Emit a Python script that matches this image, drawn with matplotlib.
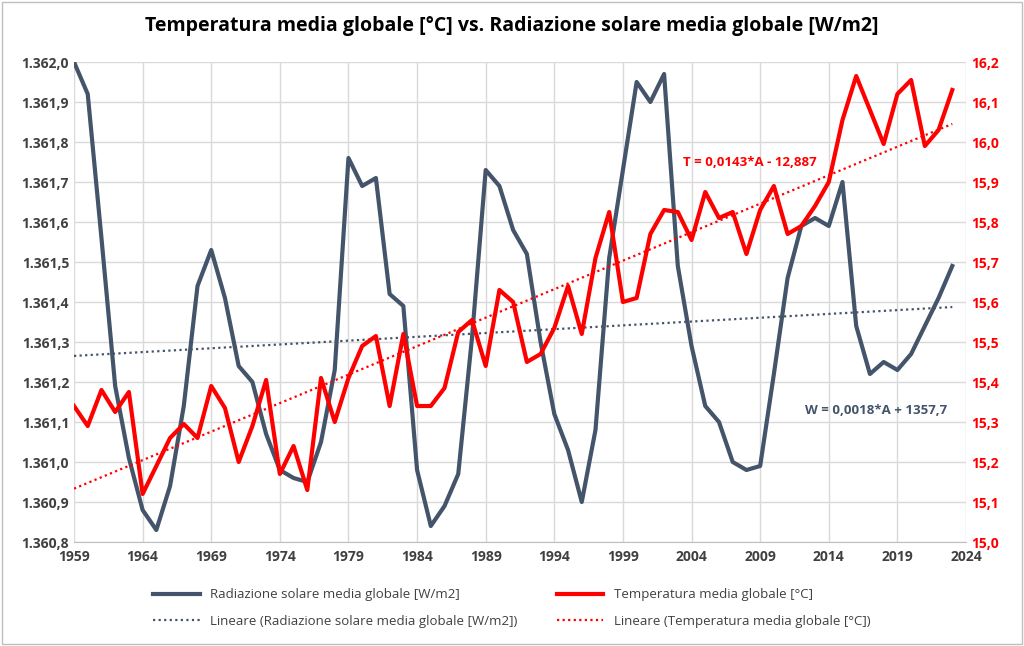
import numpy as np
import matplotlib
matplotlib.use("Agg")
import matplotlib.pyplot as plt
from matplotlib.ticker import FuncFormatter

plt.rcParams['font.family'] = ['Open Sans', 'DejaVu Sans']

years = np.arange(1959, 2024)
radiation = [1.36200, 1.36192, 1.36156, 1.36119, 1.36101, 1.36088, 1.36083, 1.36094, 1.36114, 1.36144,
             1.36153, 1.36141, 1.36124, 1.36120, 1.36107, 1.36098, 1.36096, 1.36095, 1.36105, 1.36123,
             1.36176, 1.36169, 1.36171, 1.36142, 1.36139, 1.36098, 1.36084, 1.36089, 1.36097, 1.36131,
             1.36173, 1.36169, 1.36158, 1.36152, 1.36130, 1.36112, 1.36103, 1.36090, 1.36108, 1.36151,
             1.36173, 1.36195, 1.36190, 1.36197, 1.36149, 1.36129, 1.36114, 1.36110, 1.36100, 1.36098,
             1.36099, 1.36122, 1.36146, 1.36159, 1.36161, 1.36159, 1.36170, 1.36134, 1.36122, 1.36125,
             1.36123, 1.36127, 1.36134, 1.36141, 1.36149]
temperature = [15.34, 15.29, 15.38, 15.325, 15.375, 15.12, 15.19, 15.26, 15.295, 15.26,
               15.39, 15.335, 15.20, 15.29, 15.405, 15.17, 15.24, 15.13, 15.41, 15.30,
               15.41, 15.49, 15.515, 15.34, 15.52, 15.34, 15.34, 15.385, 15.525, 15.555,
               15.44, 15.63, 15.60, 15.45, 15.47, 15.535, 15.64, 15.52, 15.71, 15.825,
               15.60, 15.61, 15.77, 15.83, 15.825, 15.755, 15.875, 15.81, 15.825, 15.72,
               15.83, 15.89, 15.77, 15.79, 15.84, 15.90, 16.055, 16.165, 16.08, 15.995,
               16.12, 16.155, 15.99, 16.03, 16.13]
rad_w = np.array(radiation) * 1000  # W/m2

GREY = "#44546a"
RED = "#ff0000"


def fmt_rad(v, pos):
    # 1361.2 -> "1.361,2"
    n = int(round(v * 10))
    return "%d.%03d,%d" % (n // 10000, n // 10 % 1000, n % 10)


fig = plt.figure(figsize=(10.24, 6.46), dpi=100)
ax = fig.add_axes([74 / 1024, 1 - 542 / 646, (966 - 74) / 1024, 480 / 646])
ax2 = ax.twinx()

l1, = ax.plot(years, rad_w, color=GREY, lw=3)
l2, = ax2.plot(years, temperature, color=RED, lw=3)

# linear trendlines
cw = np.polyfit(years, rad_w, 1)
ct = np.polyfit(years, temperature, 1)
l3, = ax.plot(years, np.polyval(cw, years), color=GREY, lw=1.6, ls=(0, (1, 1.5)))
l4, = ax2.plot(years, np.polyval(ct, years), color=RED, lw=1.6, ls=(0, (1, 1.5)))

ax.set_xlim(1959, 2024)
ax.set_ylim(1360.8, 1362.0)
ax2.set_ylim(15.0, 16.2)
ax.set_xticks(np.arange(1959, 2025, 5))
ax.set_yticks(np.arange(1360.8, 1362.01, 0.1))
ax2.set_yticks(np.arange(15.0, 16.21, 0.1))
ax.yaxis.set_major_formatter(FuncFormatter(fmt_rad))
ax2.yaxis.set_major_formatter(FuncFormatter(lambda v, p: ("%.1f" % v).replace(".", ",")))
ax.grid(True, color="#d9d9d9", lw=1)
ax.set_axisbelow(True)
for a in (ax, ax2):
    for s in a.spines.values():
        s.set_visible(False)
    a.tick_params(length=0)
ax.spines['bottom'].set_visible(True)
ax.spines['bottom'].set_color("#bfbfbf")
for lab in ax.get_yticklabels() + ax.get_xticklabels():
    lab.set_color("#404040"); lab.set_fontweight("bold"); lab.set_fontsize(10)
for lab in ax2.get_yticklabels():
    lab.set_color(RED); lab.set_fontweight("bold"); lab.set_fontsize(10)
ax.tick_params(axis='x', pad=6)

ax2.text(2003.4, 15.94, "T = 0,0143*A - 12,887", color=RED, fontsize=9.5, fontweight="bold")
ax2.text(2012.3, 15.32, "W = 0,0018*A + 1357,7", color=GREY, fontsize=9.5, fontweight="bold")

fig.suptitle("Temperatura media globale [°C] vs. Radiazione solare media globale [W/m2]",
             y=0.975, fontsize=14, fontweight="bold")
# legend filled column-wise, so order handles to read row by row
fig.legend([l1, l3, l2, l4],
           ["Radiazione solare media globale [W/m2]", "Lineare (Radiazione solare media globale [W/m2])",
            "Temperatura media globale [°C]", "Lineare (Temperatura media globale [°C])"],
           loc="lower center", bbox_to_anchor=(0.5, 0.01), ncol=2, frameon=False, fontsize=9.5,
           handlelength=3.5, columnspacing=3, labelspacing=1.0, labelcolor="#404040")
fig.patches.append(plt.Rectangle((0.002, 0.003), 0.996, 0.994, transform=fig.transFigure,
                                 fill=False, edgecolor="#bfbfbf", lw=1))
fig.savefig("out.png", dpi=100)
